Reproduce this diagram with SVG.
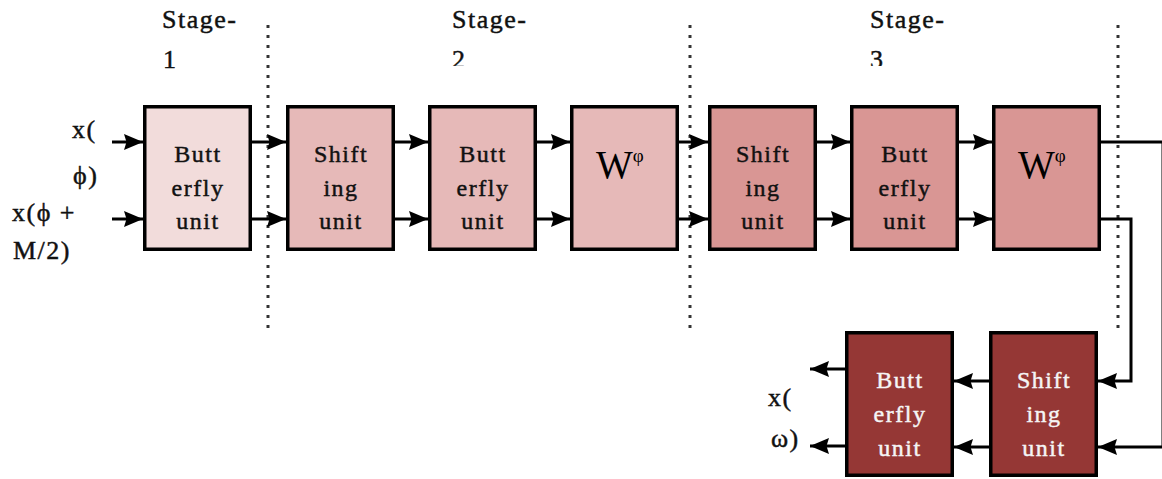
<svg xmlns="http://www.w3.org/2000/svg" width="1162" height="479" viewBox="0 0 1162 479">
  <style>
    .box { stroke: #000; stroke-width: 3.5; }
    .s1 { fill: #F2DCDB; }
    .s2 { fill: #E6B9B8; }
    .s3 { fill: #D99694; }
    .s4 { fill: #953735; }
    .lbl { font-family: "Liberation Serif", "DejaVu Serif", serif; font-size: 24px; letter-spacing: 1.5px; fill: #111; stroke: #111; stroke-width: 0.45; }
    .mid { text-anchor: middle; }
    .inv { fill: #F5F5F5; stroke: #F5F5F5; }
    .stage { font-family: "Liberation Serif", "DejaVu Serif", serif; font-size: 26px; letter-spacing: 1.5px; fill: #111; stroke: #111; stroke-width: 0.45; }
    .wt { font-family: "Liberation Serif", "DejaVu Serif", serif; font-size: 39px; fill: #000; }
    .wire { fill: none; stroke: #000; stroke-width: 3; }
    .arr { marker-end: url(#head); }
    .sep { stroke: #333; stroke-width: 3; stroke-dasharray: 3 7; }
  </style>
  <defs>
    <marker id="head" markerUnits="userSpaceOnUse" markerWidth="22" markerHeight="18" refX="19" refY="8.5" orient="auto">
      <path d="M0,0.5 L19,8.5 L0,16.5 L2.5,8.5 Z" fill="#000"/>
    </marker>
    <clipPath id="clipStage">
      <rect x="0" y="0" width="1162" height="66"/>
    </clipPath>
  </defs>

  <!-- stage separators -->
  <g id="separators">
    <line class="sep" x1="268" y1="25" x2="268" y2="330"/>
    <line class="sep" x1="690" y1="25" x2="690" y2="330"/>
    <line class="sep" x1="1118" y1="25" x2="1118" y2="330"/>
  </g>

  <!-- stage titles -->
  <g id="stage-labels">
    <text class="stage" x="162" y="28">Stage-</text>
    <text class="stage" x="163" y="68">1</text>
    <text class="stage" x="452" y="28">Stage-</text>
    <text class="stage" x="452" y="68" clip-path="url(#clipStage)">2</text>
    <text class="stage" x="870" y="28">Stage-</text>
    <text class="stage" x="870" y="68" clip-path="url(#clipStage)">3</text>
  </g>

  <!-- signal labels -->
  <g id="io-labels">
    <text class="stage" x="72" y="138">x(</text>
    <text class="stage" x="73" y="184">ϕ)</text>
    <text class="stage" x="12" y="221">x(ϕ +</text>
    <text class="stage" x="13" y="259">M/2)</text>
    <text class="stage" x="768" y="406">x(</text>
    <text class="stage" x="771" y="447">ω)</text>
  </g>

  <!-- connectors -->
  <g id="connectors">
    <line class="wire arr" x1="112" y1="142" x2="143" y2="142"/>
    <line class="wire arr" x1="112" y1="219" x2="143" y2="219"/>
    <line class="wire arr" x1="252" y1="142" x2="286" y2="142"/>
    <line class="wire arr" x1="252" y1="219" x2="286" y2="219"/>
    <line class="wire arr" x1="395" y1="142" x2="428" y2="142"/>
    <line class="wire arr" x1="395" y1="219" x2="428" y2="219"/>
    <line class="wire arr" x1="537" y1="142" x2="570" y2="142"/>
    <line class="wire arr" x1="537" y1="219" x2="570" y2="219"/>
    <line class="wire arr" x1="679" y1="142" x2="708" y2="142"/>
    <line class="wire arr" x1="679" y1="219" x2="708" y2="219"/>
    <line class="wire arr" x1="817" y1="142" x2="850" y2="142"/>
    <line class="wire arr" x1="817" y1="219" x2="850" y2="219"/>
    <line class="wire arr" x1="959" y1="142" x2="992" y2="142"/>
    <line class="wire arr" x1="959" y1="219" x2="992" y2="219"/>
    <!-- feedback to the last stage -->
    <path class="wire arr" d="M1101,142 H1163 V447 H1098"/>
    <path class="wire arr" d="M1101,219 H1131 V381 H1098"/>
    <line class="wire arr" x1="989" y1="381" x2="954" y2="381"/>
    <line class="wire arr" x1="989" y1="447" x2="954" y2="447"/>
    <line class="wire arr" x1="845" y1="369" x2="810" y2="369"/>
    <line class="wire arr" x1="845" y1="446" x2="810" y2="446"/>
  </g>

  <!-- processing units -->
  <g id="bf1">
    <rect class="box s1" x="144.75" y="106.75" width="105.5" height="142.5"/>
    <text class="lbl mid" x="198" y="162">Butt</text>
    <text class="lbl mid" x="198" y="196">erfly</text>
    <text class="lbl mid" x="198" y="229">unit</text>
  </g>
  <g id="sh2">
    <rect class="box s2" x="287.75" y="106.75" width="105.5" height="142.5"/>
    <text class="lbl mid" x="341" y="162">Shift</text>
    <text class="lbl mid" x="341" y="196">ing</text>
    <text class="lbl mid" x="341" y="229">unit</text>
  </g>
  <g id="bf2">
    <rect class="box s2" x="429.75" y="106.75" width="105.5" height="142.5"/>
    <text class="lbl mid" x="483" y="162">Butt</text>
    <text class="lbl mid" x="483" y="196">erfly</text>
    <text class="lbl mid" x="483" y="229">unit</text>
  </g>
  <g id="tw2">
    <rect class="box s2" x="571.75" y="106.75" width="105.5" height="142.5"/>
    <text class="wt" x="596" y="178">W<tspan font-size="19" dy="-16">φ</tspan></text>
  </g>
  <g id="sh3">
    <rect class="box s3" x="709.75" y="106.75" width="105.5" height="142.5"/>
    <text class="lbl mid" x="763" y="162">Shift</text>
    <text class="lbl mid" x="763" y="196">ing</text>
    <text class="lbl mid" x="763" y="229">unit</text>
  </g>
  <g id="bf3">
    <rect class="box s3" x="851.75" y="106.75" width="105.5" height="142.5"/>
    <text class="lbl mid" x="905" y="162">Butt</text>
    <text class="lbl mid" x="905" y="196">erfly</text>
    <text class="lbl mid" x="905" y="229">unit</text>
  </g>
  <g id="tw3">
    <rect class="box s3" x="993.75" y="106.75" width="105.5" height="142.5"/>
    <text class="wt" x="1018" y="178">W<tspan font-size="19" dy="-16">φ</tspan></text>
  </g>
  <g id="sh4">
    <rect class="box s4" x="990.75" y="332.75" width="105.5" height="142.5"/>
    <text class="lbl mid inv" x="1044" y="388">Shift</text>
    <text class="lbl mid inv" x="1044" y="422">ing</text>
    <text class="lbl mid inv" x="1044" y="456">unit</text>
  </g>
  <g id="bf4">
    <rect class="box s4" x="846.75" y="332.75" width="105.5" height="142.5"/>
    <text class="lbl mid inv" x="900" y="388">Butt</text>
    <text class="lbl mid inv" x="900" y="422">erfly</text>
    <text class="lbl mid inv" x="900" y="456">unit</text>
  </g>
</svg>
